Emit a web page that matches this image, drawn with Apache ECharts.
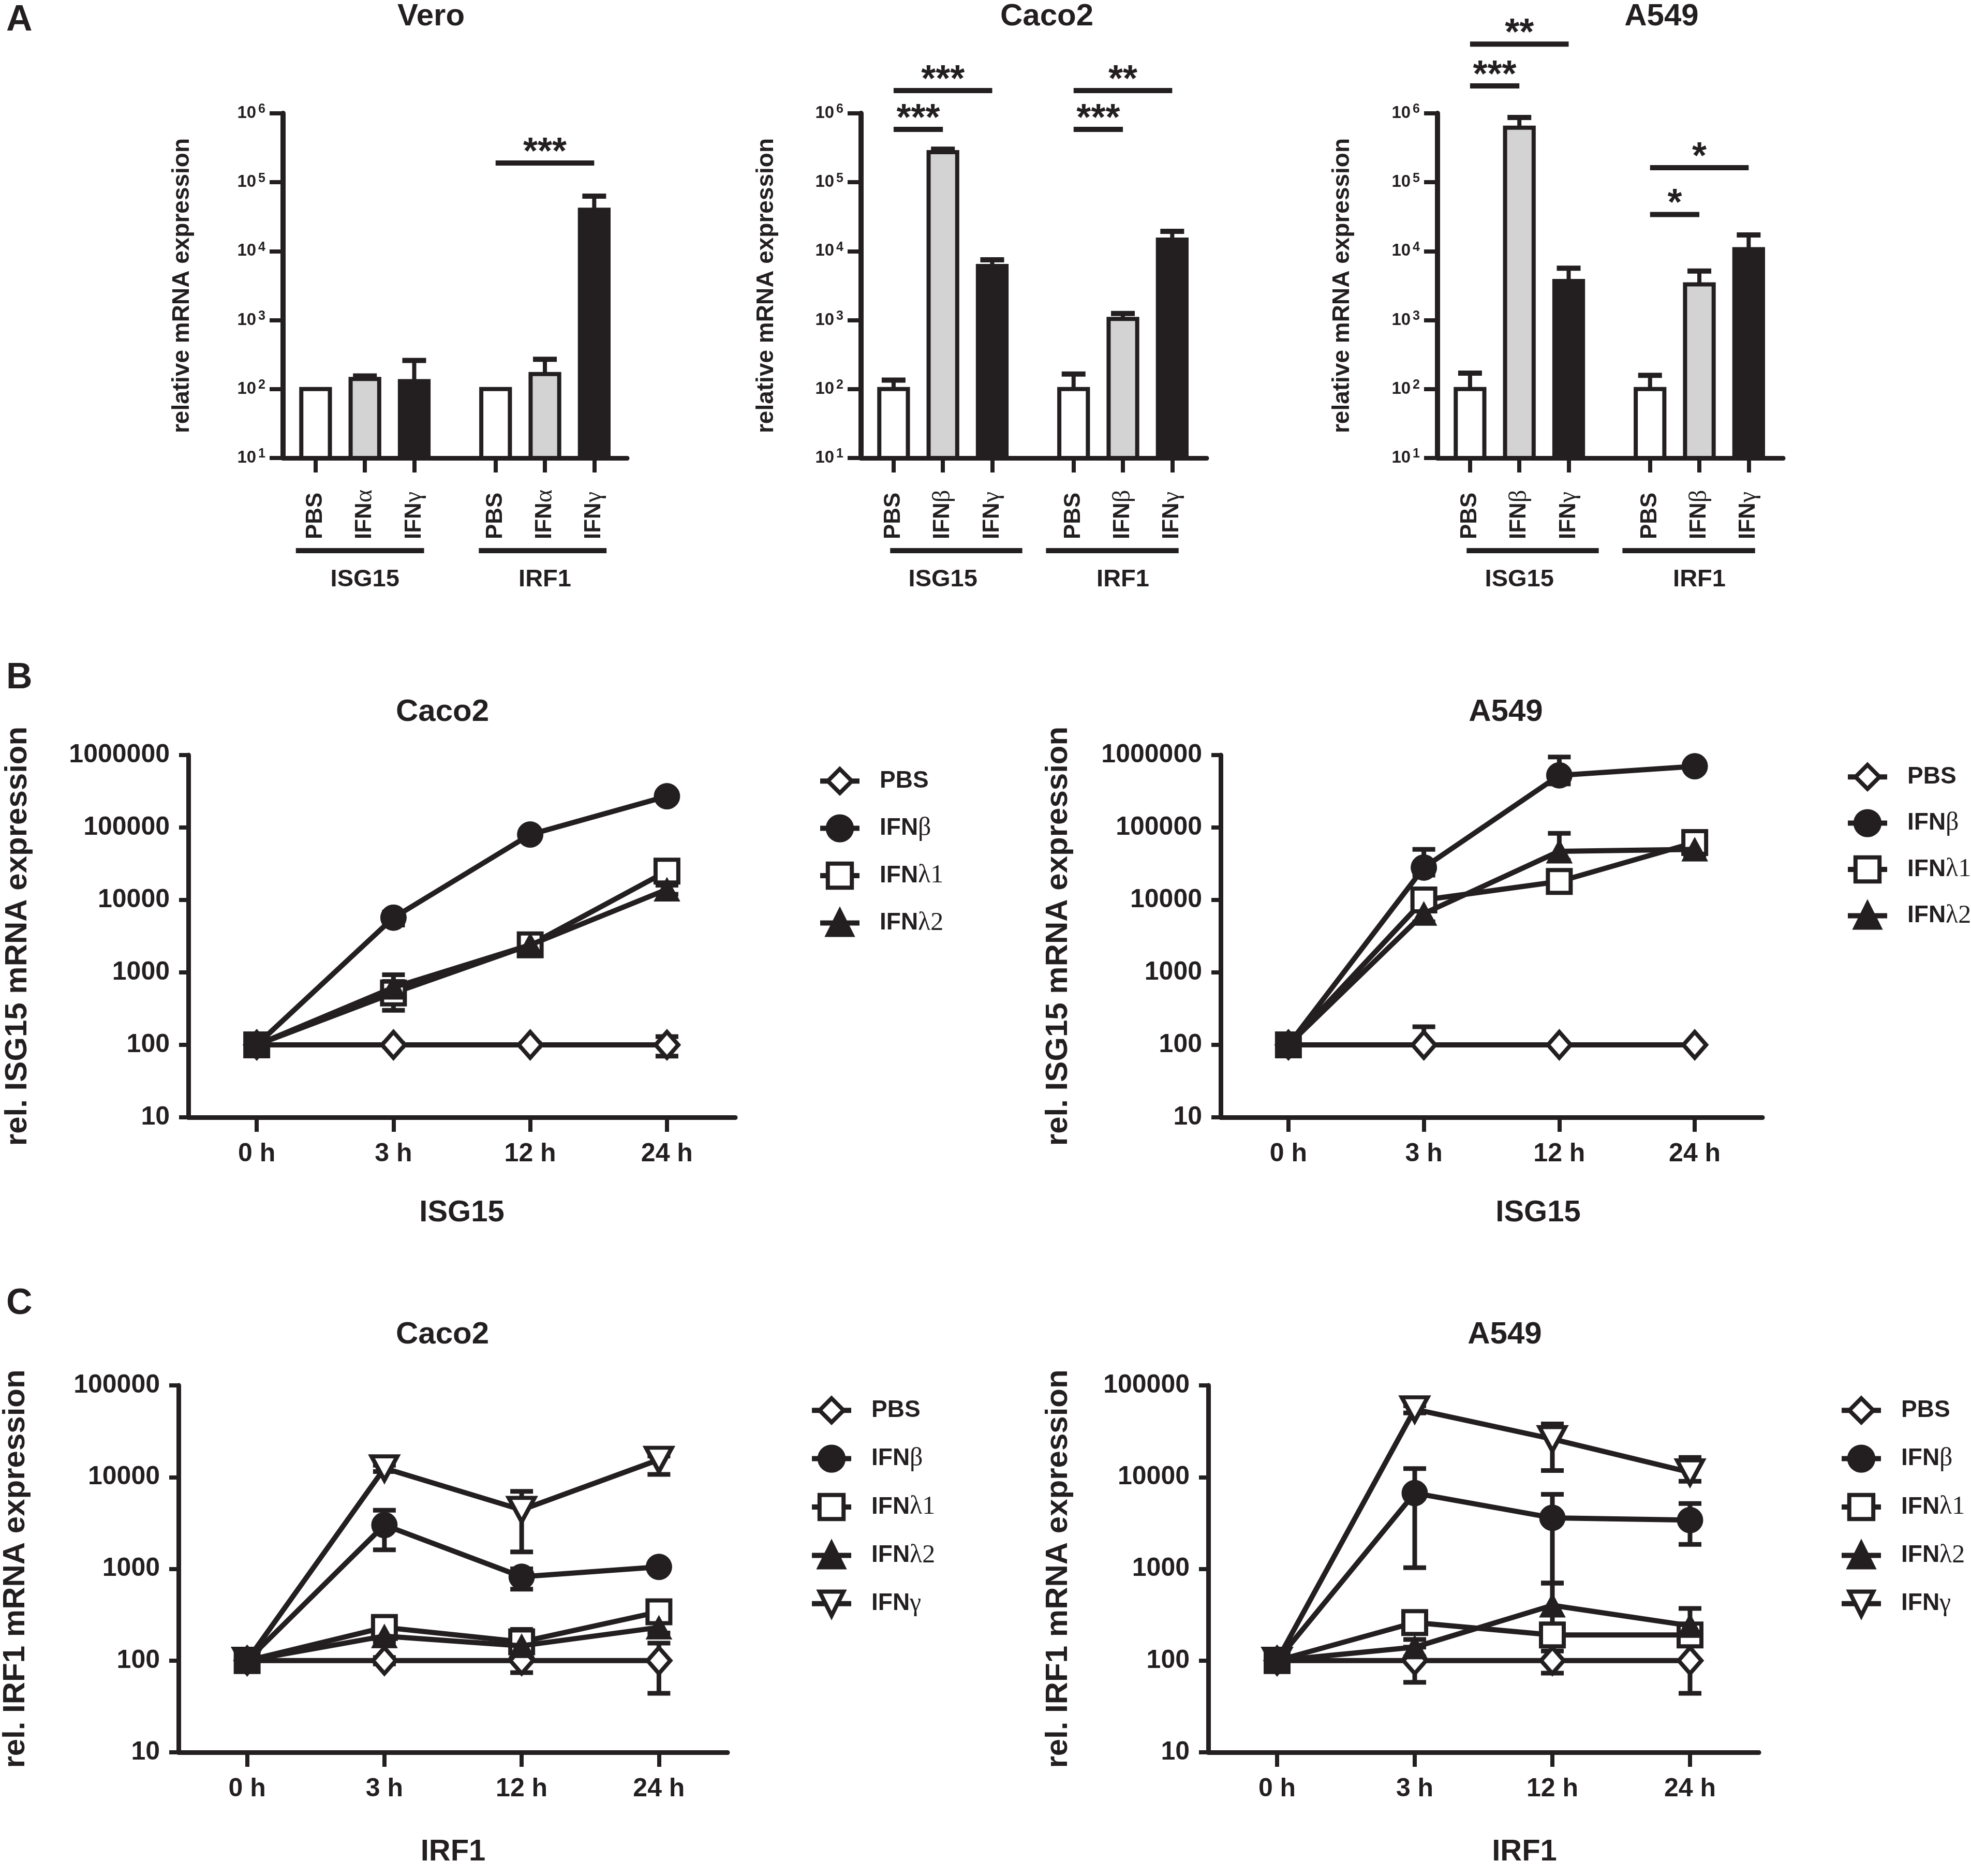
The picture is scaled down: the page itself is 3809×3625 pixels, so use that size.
<!DOCTYPE html>
<html>
<head>
<meta charset="utf-8">
<title>ISG15 / IRF1 mRNA expression</title>
<script src="https://cdn.jsdelivr.net/npm/echarts@6/dist/echarts.min.js"></script>
<style>
  html, body { margin: 0; padding: 0; background: #fff; }
  #chart { width: 3809px; height: 3625px; }
</style>
</head>
<body>
<div id="chart"></div>
<script>
// ---------- data ----------
// panel A: bars (mean) and upper error ends
const barGroups = ['ISG15', 'IRF1'];
const veroLabels = ['PBS', 'IFNα', 'IFNγ', 'PBS', 'IFNα', 'IFNγ'];
const cellLabels = ['PBS', 'IFNβ', 'IFNγ', 'PBS', 'IFNβ', 'IFNγ'];
const barX = [0, 1, 2, 3.65, 4.65, 5.65];
const veroMean = [100, 140, 130, 100, 165, 40000];
const veroUpper = [100, 155, 260, 100, 270, 63000];
const caco2Mean = [100, 273000, 6100, 100, 1040, 14700];
const caco2Upper = [135, 302000, 7500, 165, 1250, 19400];
const a549Mean = [100, 620000, 3700, 100, 3300, 10700];
const a549Upper = [170, 870000, 5660, 158, 5150, 17200];
// significance brackets: [from bar, to bar, height, stars]
const veroSig = [[3, 5, 1.9e5, '***']];
const caco2Sig = [[0, 1, 5.85e5, '***'], [0, 2, 2.14e6, '***'], [3, 4, 5.85e5, '***'], [3, 5, 2.14e6, '**']];
const a549Sig = [[0, 1, 2.5e6, '***'], [0, 2, 1.01e7, '**'], [3, 4, 3.4e4, '*'], [3, 5, 1.63e5, '*']];

// panels B and C: time courses, mean and [low, high] error ends
const timeCats = ['0 h', '3 h', '12 h', '24 h'];

const isgCacoPBS = [100, 100, 100, 100];
const isgCacoPBSErr = [[100, 100], [95, 105], [95, 105], [70, 130]];
const isgCacoB = [100, 5700, 80000, 270000];
const isgCacoBErr = [[100, 100], [4500, 6800], [75000, 85000], [260000, 280000]];
const isgCacoL1 = [100, 520, 2400, 25000];
const isgCacoL1Err = [[100, 100], [300, 930], [2000, 2900], [22000, 28000]];
const isgCacoL2 = [100, 620, 2400, 14000];
const isgCacoL2Err = [[100, 100], [450, 750], [2100, 2700], [12000, 16000]];

const isgA549PBS = [100, 100, 100, 100];
const isgA549PBSErr = [[100, 100], [100, 178], [100, 100], [100, 100]];
const isgA549B = [100, 28000, 525000, 700000];
const isgA549BErr = [[100, 100], [22000, 50000], [400000, 940000], [650000, 750000]];
const isgA549L1 = [100, 10000, 18000, 62000];
const isgA549L1Err = [[100, 100], [8500, 12000], [14000, 24000], [55000, 70000]];
const isgA549L2 = [100, 6500, 47000, 50000];
const isgA549L2Err = [[100, 100], [5000, 8000], [35000, 83000], [40000, 60000]];

const irfCacoPBS = [100, 100, 100, 100];
const irfCacoPBSErr = [[100, 100], [92, 108], [74, 125], [44, 155]];
const irfCacoB = [100, 3000, 820, 1050];
const irfCacoBErr = [[100, 100], [1610, 4360], [600, 1000], [950, 1150]];
const irfCacoL1 = [100, 230, 160, 340];
const irfCacoL1Err = [[100, 100], [200, 260], [118, 219], [300, 380]];
const irfCacoL2 = [100, 185, 145, 230];
const irfCacoL2Err = [[100, 100], [160, 210], [125, 170], [200, 260]];
const irfCacoG = [100, 12500, 4400, 15500];
const irfCacoGErr = [[100, 100], [11500, 13500], [1530, 7000], [10700, 17000]];

const irfA549PBS = [100, 100, 100, 100];
const irfA549PBSErr = [[100, 100], [58, 140], [73, 127], [44, 156]];
const irfA549B = [100, 6700, 3600, 3400];
const irfA549BErr = [[100, 100], [1030, 12400], [700, 6500], [1850, 5150]];
const irfA549L1 = [100, 260, 190, 190];
const irfA549L1Err = [[100, 100], [220, 300], [150, 240], [150, 230]];
const irfA549L2 = [100, 140, 400, 240];
const irfA549L2Err = [[100, 100], [110, 170], [250, 700], [180, 370]];
const irfA549G = [100, 55000, 26000, 11300];
const irfA549GErr = [[100, 100], [50000, 60000], [11800, 38000], [9000, 16400]];

// ---------- styling ----------
const INK = '#231f20';
const SANS = '"Liberation Sans", Arial, sans-serif';
const SERIF = '"Liberation Serif", "Times New Roman", serif';
const barFill = ['#ffffff', '#d3d3d3', INK, '#ffffff', '#d3d3d3', INK];
const marks = {
  'PBS':   { symbol: 'diamond', size: [44, 50], open: true, z: 2 },
  'IFNγ':  { symbol: 'triangle', size: [50, 46], open: true, rotate: 180, z: 3 },
  'IFNλ1': { symbol: 'rect', size: 44, open: true, z: 4 },
  'IFNβ':  { symbol: 'circle', size: 50, open: false, z: 5 },
  'IFNλ2': { symbol: 'triangle', size: [50, 46], open: false, z: 6 }
};
const greek = s => s.replace(/([αβγλ]\d?)/g, '{g|$1}');
const greekRich = size => ({ g: { fontFamily: SERIF, fontSize: size, fontWeight: 'normal', color: INK } });

const barPanels = [
  { grid: { left: 547, top: 219, width: 665, height: 666 }, labels: veroLabels,
    mean: veroMean, upper: veroUpper, sig: veroSig, spans: [[-0.4, 2.2], [3.31, 5.9]], nameGap: 172 },
  { grid: { left: 1664, top: 219, width: 668, height: 666 }, labels: cellLabels,
    mean: caco2Mean, upper: caco2Upper, sig: caco2Sig, spans: [[-0.07, 2.61], [3.09, 5.78]], nameGap: 160 },
  { grid: { left: 2778, top: 219, width: 668, height: 666 }, labels: cellLabels,
    mean: a549Mean, upper: a549Upper, sig: a549Sig, spans: [[-0.07, 2.61], [3.09, 5.78]], nameGap: 161 }
];

const linePanels = [
  { grid: { left: 364, top: 1459, width: 1057, height: 700 }, max: 1e6,
    yName: 'rel. ISG15 mRNA expression', xName: 'ISG15', yGap: 300, xGap: 156, xShift: 0,
    legend: { left: 1580, top: 1482, gap: 41 },
    series: [['PBS', isgCacoPBS, isgCacoPBSErr], ['IFNβ', isgCacoB, isgCacoBErr],
             ['IFNλ1', isgCacoL1, isgCacoL1Err], ['IFNλ2', isgCacoL2, isgCacoL2Err]] },
  { grid: { left: 2359, top: 1459, width: 1047, height: 700 }, max: 1e6,
    yName: 'rel. ISG15 mRNA expression', xName: 'ISG15', yGap: 284, xGap: 156, xShift: 90,
    legend: { left: 3566, top: 1474, gap: 39 },
    series: [['PBS', isgA549PBS, isgA549PBSErr], ['IFNβ', isgA549B, isgA549BErr],
             ['IFNλ1', isgA549L1, isgA549L1Err], ['IFNλ2', isgA549L2, isgA549L2Err]] },
  { grid: { left: 345, top: 2677, width: 1061, height: 709 }, max: 1e5,
    yName: 'rel. IRF1 mRNA expression', xName: 'IRF1', yGap: 285, xGap: 164, xShift: 0,
    legend: { left: 1564, top: 2698, gap: 43 },
    series: [['PBS', irfCacoPBS, irfCacoPBSErr], ['IFNβ', irfCacoB, irfCacoBErr],
             ['IFNλ1', irfCacoL1, irfCacoL1Err], ['IFNλ2', irfCacoL2, irfCacoL2Err],
             ['IFNγ', irfCacoG, irfCacoGErr]] },
  { grid: { left: 2335, top: 2677, width: 1064, height: 709 }, max: 1e5,
    yName: 'rel. IRF1 mRNA expression', xName: 'IRF1', yGap: 260, xGap: 164, xShift: 79,
    legend: { left: 3554, top: 2698, gap: 43 },
    series: [['PBS', irfA549PBS, irfA549PBSErr], ['IFNβ', irfA549B, irfA549BErr],
             ['IFNλ1', irfA549L1, irfA549L1Err], ['IFNλ2', irfA549L2, irfA549L2Err],
             ['IFNγ', irfA549G, irfA549GErr]] }
];

// titles and panel letters: [text, x, y, size, align]
const headings = [
  ['A', 12, 40, 70, 'left'], ['Vero', 833, 32, 60, 'center'], ['Caco2', 2023, 32, 60, 'center'],
  ['A549', 3211, 32, 60, 'center'],
  ['B', 12, 1311, 70, 'left'], ['Caco2', 855, 1376, 60, 'center'], ['A549', 2910, 1376, 60, 'center'],
  ['C', 12, 2520, 70, 'left'], ['Caco2', 855, 2579, 60, 'center'], ['A549', 2908, 2579, 60, 'center']
];

// ---------- helpers ----------
const seg = (x1, y1, x2, y2, w) => ({ type: 'line', shape: { x1, y1, x2, y2 }, style: { stroke: INK, lineWidth: w } });
const label = (text, x, y, size) => ({
  type: 'text',
  style: { text, x, y, fill: INK, fontSize: size, fontWeight: 'bold', fontFamily: SANS,
           align: 'center', verticalAlign: 'middle', textAlign: 'center', textVerticalAlign: 'middle' }
});

function lineErr(params, api) {
  const x = api.value(0);
  const lo = api.coord([x, api.value(1)]);
  const hi = api.coord([x, api.value(2)]);
  if (!(lo[1] - hi[1] > 2)) return { type: 'group', children: [] };
  return { type: 'group', children: [
    seg(lo[0], lo[1], hi[0], hi[1], 9),
    seg(lo[0] - 22, lo[1], lo[0] + 22, lo[1], 9),
    seg(hi[0] - 22, hi[1], hi[0] + 22, hi[1], 9)
  ] };
}

const grids = [], xAxes = [], yAxes = [], series = [], legends = [];

barPanels.forEach((p, i) => {
  grids.push(Object.assign({ outerBoundsMode: 'none', containLabel: false }, p.grid));
  xAxes.push({
    type: 'value', gridIndex: i, min: -0.66, max: -0.66 + p.grid.width / 95.3,
    axisLine: { show: true, onZero: false, lineStyle: { color: INK, width: 9 } },
    axisTick: { show: true, customValues: barX, length: 28, lineStyle: { color: INK, width: 8 } },
    axisLabel: {
      show: true, customValues: barX, rotate: 90, align: 'left', verticalAlign: 'middle', margin: 157,
      formatter: v => greek(p.labels[barX.indexOf(v)] || ''),
      fontSize: 44, fontWeight: 'bold', fontFamily: SANS, color: INK, rich: greekRich(48)
    },
    splitLine: { show: false }
  });
  yAxes.push({
    type: 'log', logBase: 10, gridIndex: i, min: 10, max: 1e6,
    name: 'relative mRNA expression', nameLocation: 'middle', nameRotate: 90, nameGap: p.nameGap,
    nameTextStyle: { fontSize: 46, fontWeight: 'bold', fontFamily: SANS, color: INK },
    axisLine: { show: true, onZero: false, lineStyle: { color: INK, width: 10 } },
    axisTick: { show: true, length: 26, lineStyle: { color: INK, width: 8 } },
    axisLabel: {
      margin: 34, formatter: v => '{b|10}{s|' + Math.round(Math.log10(v)) + '}',
      rich: {
        b: { fontSize: 33, fontWeight: 'bold', fontFamily: SANS, color: INK, lineHeight: 40 },
        s: { fontSize: 25, fontWeight: 'bold', fontFamily: SANS, color: INK, lineHeight: 26,
             verticalAlign: 'top', padding: [0, 0, 0, 4] }
      }
    },
    splitLine: { show: false }
  });
  // bars with their upper error bars
  series.push({
    type: 'custom', xAxisIndex: i, yAxisIndex: i, z: 2, clip: false,
    data: p.mean.map((m, k) => [barX[k], m, p.upper[k]]),
    renderItem: (params, api) => {
      const x = api.value(0), v = api.value(1), u = api.value(2);
      const l = api.coord([x - 0.29, v]), r = api.coord([x + 0.29, v]);
      const b = api.coord([x, 10]), c = api.coord([x, u]);
      const kids = [{ type: 'rect', shape: { x: l[0], y: l[1], width: r[0] - l[0], height: b[1] - l[1] },
                      style: { fill: barFill[params.dataIndex], stroke: INK, lineWidth: 8 } }];
      if (u > v) {
        kids.push(seg(b[0], l[1], c[0], c[1], 8));
        kids.push(seg(c[0] - 23, c[1], c[0] + 23, c[1], 10));
      }
      return { type: 'group', children: kids };
    }
  });
  // significance brackets
  series.push({
    type: 'custom', xAxisIndex: i, yAxisIndex: i, z: 3, clip: false,
    data: p.sig.map(s => [barX[s[0]], s[2], barX[s[1]]]),
    renderItem: (params, api) => {
      const y = api.value(1);
      const a = api.coord([api.value(0), y]), b = api.coord([api.value(2), y]);
      return { type: 'group', children: [
        seg(a[0], a[1], b[0], a[1], 10),
        label(p.sig[params.dataIndex][3], (a[0] + b[0]) / 2, a[1] - 19, 72)
      ] };
    }
  });
  // group underline and name
  series.push({
    type: 'custom', xAxisIndex: i, yAxisIndex: i, z: 3, clip: false,
    data: p.spans.map((s, k) => [barX[k * 3 + 1], 10, s[0], s[1]]),
    renderItem: (params, api) => {
      const m = api.coord([api.value(0), 10]);
      const a = api.coord([api.value(2), 10]), b = api.coord([api.value(3), 10]);
      return { type: 'group', children: [
        { type: 'rect', shape: { x: a[0], y: m[1] + 174, width: b[0] - a[0], height: 10 }, style: { fill: INK } },
        label(barGroups[params.dataIndex], m[0], m[1] + 235, 47)
      ] };
    }
  });
});

linePanels.forEach((p, j) => {
  const gi = barPanels.length + j;
  grids.push(Object.assign({ outerBoundsMode: 'none', containLabel: false }, p.grid));
  xAxes.push({
    type: 'category', gridIndex: gi, data: timeCats, boundaryGap: true,
    name: p.xName, nameLocation: 'middle', nameGap: p.xGap,
    nameTextStyle: { fontSize: 58, fontWeight: 'bold', fontFamily: SANS, color: INK, padding: [0, 0, 0, p.xShift * 2] },
    axisLine: { show: true, onZero: false, lineStyle: { color: INK, width: 9 } },
    axisTick: { show: true, alignWithLabel: true, length: 28, lineStyle: { color: INK, width: 8 } },
    axisLabel: { margin: 46, fontSize: 50, fontWeight: 'bold', fontFamily: SANS, color: INK },
    splitLine: { show: false }
  });
  yAxes.push({
    type: 'log', logBase: 10, gridIndex: gi, min: 10, max: p.max,
    name: p.yName, nameLocation: 'middle', nameRotate: 90, nameGap: p.yGap,
    nameTextStyle: { fontSize: 60, fontWeight: 'bold', fontFamily: SANS, color: INK },
    axisLine: { show: true, onZero: false, lineStyle: { color: INK, width: 9 } },
    axisTick: { show: true, length: 18, lineStyle: { color: INK, width: 8 } },
    axisLabel: { margin: 36, fontSize: 50, fontWeight: 'bold', fontFamily: SANS, color: INK,
                 formatter: v => String(Math.pow(10, Math.round(Math.log10(v)))) },
    splitLine: { show: false }
  });
  p.series.forEach(([name, mean, err]) => {
    const m = marks[name];
    series.push({
      type: 'line', name, xAxisIndex: gi, yAxisIndex: gi, data: mean, z: m.z,
      symbol: m.symbol, symbolSize: m.size, symbolRotate: m.rotate || 0, showAllSymbol: true,
      lineStyle: { color: INK, width: 10 },
      itemStyle: { color: m.open ? '#ffffff' : INK, borderColor: INK, borderWidth: m.open ? 8 : 1 },
      emphasis: { disabled: true }
    });
    series.push({
      type: 'custom', xAxisIndex: gi, yAxisIndex: gi, z: 1, clip: false,
      data: err.map((e, k) => [k, e[0], e[1]]), renderItem: lineErr
    });
  });
  legends.push({
    orient: 'vertical', left: p.legend.left, top: p.legend.top, padding: 0,
    itemWidth: 76, itemHeight: 58, itemGap: p.legend.gap - 4, selectedMode: false,
    data: p.series.map(s => s[0]), formatter: n => greek(n),
    lineStyle: { color: INK, width: 10 },
    itemStyle: { borderColor: INK, borderWidth: 8 },
    textStyle: { fontSize: 46, fontWeight: 'bold', fontFamily: SANS, color: INK,
                 padding: [0, 0, 0, 34], rich: greekRich(50) }
  });
});

const graphic = headings.map(([text, x, y, size, align]) => ({
  type: 'text', x, y,
  style: { text, fill: INK, fontSize: size, fontWeight: 'bold', fontFamily: SANS,
           align, verticalAlign: 'middle', textAlign: align, textVerticalAlign: 'middle' }
}));

const chart = echarts.init(document.getElementById('chart'), null, { renderer: 'canvas' });
chart.setOption({
  backgroundColor: '#ffffff',
  animation: false,
  tooltip: { show: false },
  grid: grids,
  xAxis: xAxes,
  yAxis: yAxes,
  legend: legends,
  graphic,
  series
});
</script>
</body>
</html>
